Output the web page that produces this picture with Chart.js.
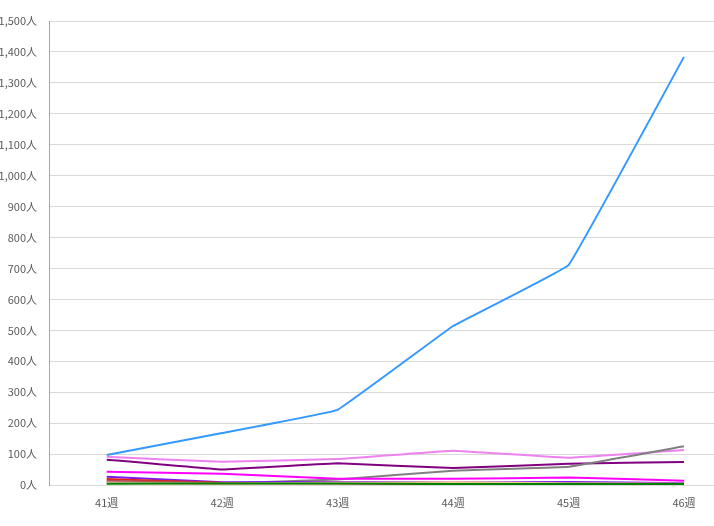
<!DOCTYPE html>
<html><head><meta charset="utf-8">
<script src="https://cdn.jsdelivr.net/npm/chart.js@4"></script>
<style>html,body{margin:0;padding:0;background:#fff;overflow:hidden}#wrap{width:714px;height:526px}</style>
</head><body><div id="wrap"><canvas id="c" width="714" height="526"></canvas></div>
<script>
const categories = ['41週','42週','43週','44週','45週','46週'];
const weekNumbers = [41,42,43,44,45,46];
const seriesBlue = [97,168,243,514,711,1384];
const seriesViolet = [91,75,84,111,88,113];
const seriesPurple = [82,50,70,55,69,74];
const seriesGray = [10,5,18,46,59,125];
const seriesMagenta = [43,36,20,20,24,14];
const seriesBlueViolet = [27,9,10,8,10,6];
const seriesRed = [19,7,5,3,3,2];
const seriesBrown = [14,6,7,6,5,3];
const seriesKhaki = [6,4,6,9,5,4];
const seriesPink = [8,3,8,6,4,3];
const seriesGreen = [4,5,5,3,3,3];
const yTicks = [0,100,200,300,400,500,600,700,800,900,1000,1100,1200,1300,1400,1500];

function pts(arr){ return arr.map((v,i)=>({x:weekNumbers[i], y:v})); }
function ds(data,color){ return {data:pts(data), borderColor:color, backgroundColor:color, borderWidth:2, pointRadius:0, tension:0.05, fill:false}; }

const font = {family:"'Noto Sans CJK JP','Noto Sans',sans-serif", size:11};
new Chart(document.getElementById('c'), {
  type:'line',
  data:{datasets:[
    ds(seriesGreen,'#008000'),
    ds(seriesKhaki,'#f5c98a'),
    ds(seriesPink,'#e8a0c8'),
    ds(seriesBrown,'#b05050'),
    ds(seriesRed,'#e02020'),
    ds(seriesBlueViolet,'#7a1cf0'),
    ds(seriesMagenta,'#ff00ff'),
    ds(seriesGray,'#808080'),
    ds(seriesPurple,'#800080'),
    ds(seriesViolet,'#ee82ee'),
    ds(seriesBlue,'#3399ff')
  ]},
  options:{
    responsive:false, animation:false, devicePixelRatio:1,
    layout:{padding:{top:21,right:0,bottom:0,left:0}},
    plugins:{legend:{display:false}, tooltip:{enabled:false}},
    scales:{
      x:{type:'linear', min:40.5, max:46.26,
        afterBuildTicks:(s)=>{ s.ticks = weekNumbers.map(v=>({value:v})); },
        afterFit:(s)=>{ s.height = 41; },
        grid:{display:false, drawTicks:false},
        border:{display:false},
        ticks:{padding:11, color:'#595959', font:font, maxRotation:0, autoSkip:false,
          callback:(v)=>categories[weekNumbers.indexOf(v)] ?? ''}
      },
      y:{min:0, max:1500,
        afterBuildTicks:(s)=>{ s.ticks = yTicks.map(v=>({value:v})); },
        afterFit:(s)=>{ s.width = 49; },
        grid:{color:'#d9d9d9', drawTicks:false, lineWidth:1},
        border:{display:true, color:'#a6a6a6', width:1},
        ticks:{padding:12, color:'#595959', font:font,
          callback:(v)=>v.toLocaleString('en-US')+'人'}
      }
    }
  }
});
</script></body></html>
